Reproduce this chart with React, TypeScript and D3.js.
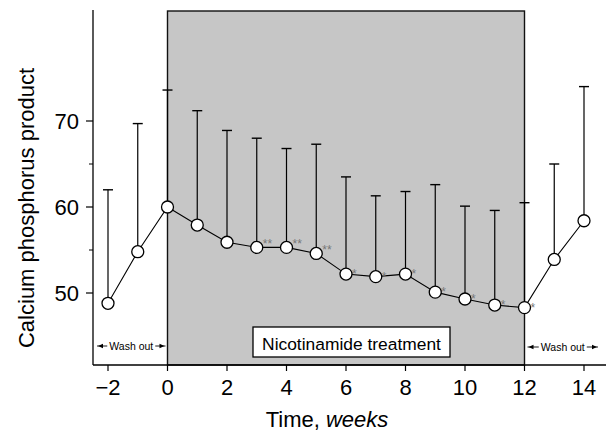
import React from "react";
import * as d3 from "d3";

const weeks = [-2, -1, 0, 1, 2, 3, 4, 5, 6, 7, 8, 9, 10, 11, 12, 13, 14];
const means = [48.8, 54.8, 60.0, 57.9, 55.9, 55.3, 55.3, 54.6, 52.2, 51.9, 52.2, 50.1, 49.3, 48.6, 48.3, 53.9, 58.4];
const upper = [62.0, 69.7, 73.6, 71.2, 68.9, 68.0, 66.8, 67.3, 63.5, 61.3, 61.8, 62.6, 60.1, 59.6, 60.5, 65.0, 74.0];
const marks = ["", "", "", "", "", "**", "**", "**", "*", "*", "*", "*", "*", "*", "*", "", ""];
const xTicks = [-2, 0, 2, 4, 6, 8, 10, 12, 14];
const yMajor = [50, 60, 70];
const yMinor = [55, 65];
const treatment = [0, 12];

export default function App() {
  const x = d3.scaleLinear().domain([-2, 14]).range([108, 584]);
  const y = d3.scaleLinear().domain([50, 70]).range([293, 121]);
  const axisX = 93;
  const axisY = 365;
  const top = 10;
  const font = "Liberation Sans, Arial, Helvetica, sans-serif";
  const line = d3
    .line<number>()
    .x((_, i) => x(weeks[i]))
    .y((d) => y(d));

  const washArrow = (x0: number, x1: number, yy: number, key: string) => {
    const cx = (x0 + x1) / 2;
    return (
      <g key={key} fontFamily={font} fontSize={10.5}>
        <text x={cx} y={yy + 3.5} textAnchor="middle">Wash out</text>
        <line x1={x0} x2={cx - 24} y1={yy} y2={yy} stroke="#000" strokeWidth={0.9} />
        <line x1={cx + 24} x2={x1} y1={yy} y2={yy} stroke="#000" strokeWidth={0.9} />
        <path d={`M${x0 + 1},${yy} l5,-2.2 l0,4.4 z`} fill="#000" />
        <path d={`M${x1 - 1},${yy} l-5,-2.2 l0,4.4 z`} fill="#000" />
      </g>
    );
  };

  return (
    <svg width={607} height={436} style={{ position: "absolute", left: 0, top: 0, background: "#fff" }}>
      <rect x={0} y={0} width={607} height={436} fill="#fff" />
      <rect
        x={x(treatment[0])}
        y={top + 1}
        width={x(treatment[1]) - x(treatment[0])}
        height={axisY - top - 1}
        fill="#c6c6c6"
        stroke="#111"
        strokeWidth={1.4}
      />
      <line x1={axisX} x2={axisX} y1={top} y2={axisY} stroke="#000" strokeWidth={1.3} />
      <line x1={axisX} x2={606} y1={axisY} y2={axisY} stroke="#000" strokeWidth={1.3} />
      {xTicks.map((t) => (
        <g key={"xt" + t}>
          <line x1={x(t)} x2={x(t)} y1={axisY} y2={axisY + 6} stroke="#000" strokeWidth={1.2} />
          <text x={x(t)} y={395} textAnchor="middle" fontFamily={font} fontSize={22}>
            {t < 0 ? "\u2212" + Math.abs(t) : t}
          </text>
        </g>
      ))}
      {yMajor.map((t) => (
        <g key={"yt" + t}>
          <line x1={axisX - 7} x2={axisX} y1={y(t)} y2={y(t)} stroke="#000" strokeWidth={1.2} />
          <text x={79} y={y(t) + 8} textAnchor="end" fontFamily={font} fontSize={22}>
            {t}
          </text>
        </g>
      ))}
      {yMinor.map((t) => (
        <line key={"ym" + t} x1={axisX - 4} x2={axisX} y1={y(t)} y2={y(t)} stroke="#000" strokeWidth={1} />
      ))}
      <text
        transform="translate(34,208) rotate(-90)"
        textAnchor="middle"
        fontFamily={font}
        fontSize={22}
      >
        Calcium phosphorus product
      </text>
      <text x={327} y={427} textAnchor="middle" fontFamily={font} fontSize={22}>
        Time, <tspan fontStyle="italic">weeks</tspan>
      </text>
      <rect x={253} y={327} width={197} height={30} fill="#fff" stroke="#000" strokeWidth={1.3} />
      <text x={351.5} y={350} textAnchor="middle" fontFamily={font} fontSize={17.4}>
        Nicotinamide treatment
      </text>
      {washArrow(97, x(0) - 2, 346, "w1")}
      {washArrow(x(12) + 3, 598, 347, "w2")}
      {weeks.map((w, i) => (
        <g key={"eb" + w}>
          <line x1={x(w)} x2={x(w)} y1={y(means[i])} y2={y(upper[i])} stroke="#000" strokeWidth={1.2} />
          <line x1={x(w) - 5} x2={x(w) + 5} y1={y(upper[i])} y2={y(upper[i])} stroke="#000" strokeWidth={1.4} />
        </g>
      ))}
      <path d={line(means) || ""} fill="none" stroke="#000" strokeWidth={1.1} />
      {weeks.map((w, i) =>
        marks[i] ? (
          <text
            key={"mk" + w}
            x={x(w) + 6}
            y={y(means[i]) + (marks[i] === "**" ? 1 : 4)}
            fontFamily={font}
            fontSize={12}
            fill="#777"
          >
            {marks[i]}
          </text>
        ) : null
      )}
      {weeks.map((w, i) => (
        <circle key={"pt" + w} cx={x(w)} cy={y(means[i])} r={6} fill="#fff" stroke="#000" strokeWidth={1.3} />
      ))}
    </svg>
  );
}
